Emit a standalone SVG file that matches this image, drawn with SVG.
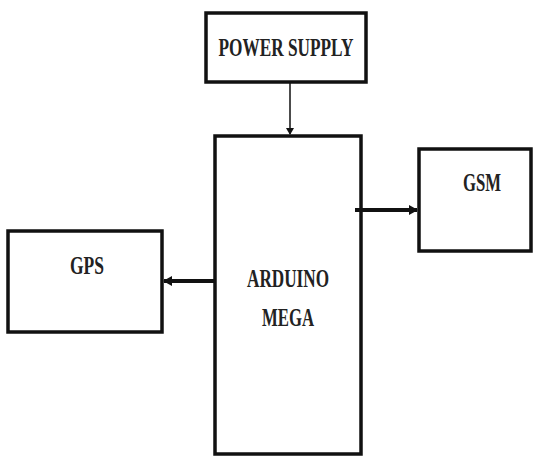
<svg xmlns="http://www.w3.org/2000/svg" width="535" height="460" viewBox="0 0 535 460">
<style>
.box{fill:#fff;stroke:#111;stroke-width:3.5}
.lbl{font-family:"Liberation Serif",serif;font-weight:bold;font-size:26px;fill:#222;text-anchor:middle}
.ln{stroke:#111;fill:none}
</style>
<defs>
<marker id="ah" markerWidth="8" markerHeight="8" refX="6" refY="4" orient="auto" markerUnits="userSpaceOnUse">
<path d="M0,0 L7,4 L0,8 z" fill="#111"/>
</marker>
<marker id="ah2" markerWidth="10" markerHeight="10" refX="8" refY="5" orient="auto" markerUnits="userSpaceOnUse">
<path d="M0,0 L9,5 L0,10 z" fill="#111"/>
</marker>
</defs>
<rect width="535" height="460" fill="#fff"/>
<g id="power">
<rect class="box" x="206" y="13" width="160" height="69"/>
<text class="lbl" x="286" y="56" textLength="135" lengthAdjust="spacingAndGlyphs">POWER SUPPLY</text>
</g>
<g id="arduino">
<rect class="box" x="215" y="136" width="146" height="318"/>
<text class="lbl" x="288" y="287" textLength="82" lengthAdjust="spacingAndGlyphs">ARDUINO</text>
<text class="lbl" x="288" y="326" textLength="52" lengthAdjust="spacingAndGlyphs">MEGA</text>
</g>
<g id="gsm">
<rect class="box" x="419" y="149" width="112" height="102"/>
<text class="lbl" x="482" y="191" textLength="38" lengthAdjust="spacingAndGlyphs">GSM</text>
</g>
<g id="gps">
<rect class="box" x="8" y="231" width="154" height="101"/>
<text class="lbl" x="87" y="274" textLength="34" lengthAdjust="spacingAndGlyphs">GPS</text>
</g>
<g id="connectors">
<line class="ln" x1="290" y1="83" x2="290" y2="134" stroke-width="1.5" marker-end="url(#ah)"/>
<line class="ln" x1="355" y1="210" x2="417" y2="210" stroke-width="4" marker-end="url(#ah2)"/>
<line class="ln" x1="214" y1="281" x2="164" y2="281" stroke-width="4" marker-end="url(#ah2)"/>
</g>
</svg>
